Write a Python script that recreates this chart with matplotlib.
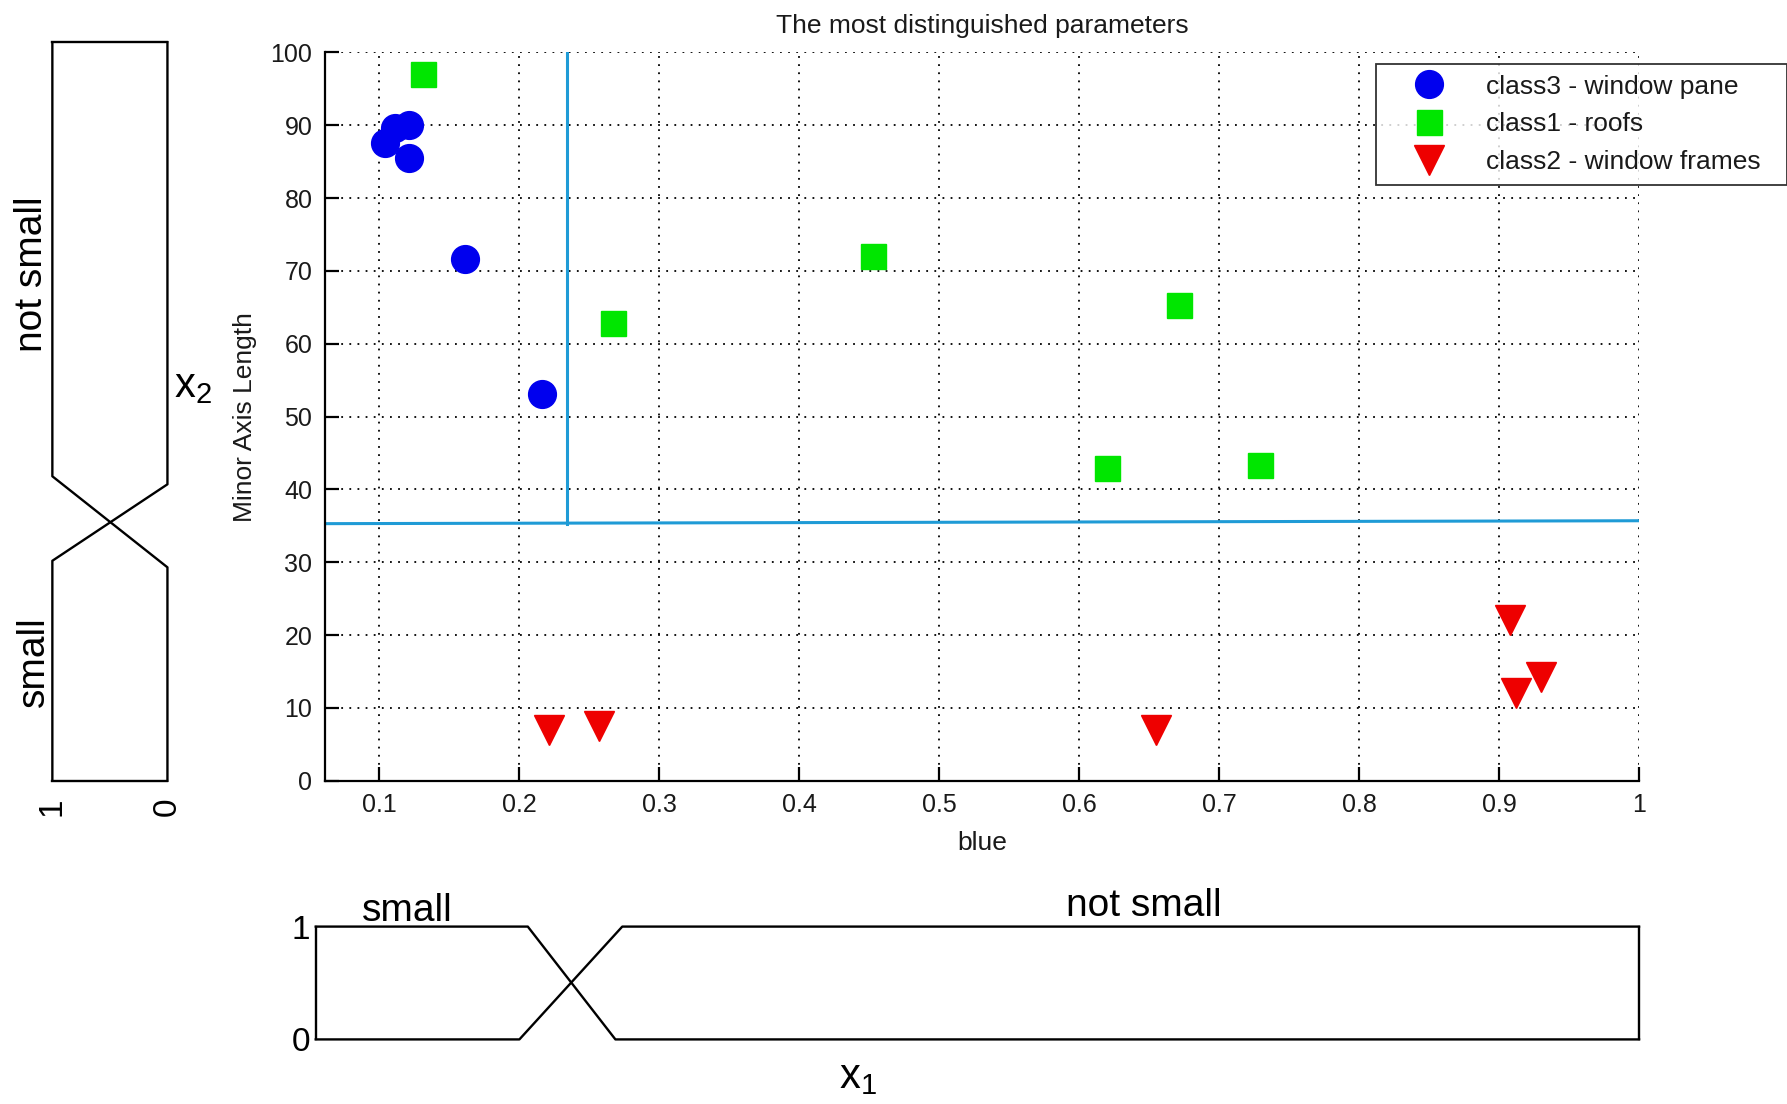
"""Fuzzy split of the two most distinguished parameters (blue vs minor axis length).

Scatter of the three classes with the crisp thresholds, plus the membership
functions "small" / "not small" drawn along each axis. Saves out.png.
"""

import matplotlib
matplotlib.use("Agg")
import matplotlib.pyplot as plt

plt.rcParams["font.family"] = ["Liberation Sans", "DejaVu Sans"]
plt.rcParams["mathtext.default"] = "regular"

# --- data -------------------------------------------------------------------
pane_x = [0.104, 0.111, 0.121, 0.121, 0.161, 0.216]
pane_y = [87.5, 89.6, 90.0, 85.5, 71.6, 53.1]
roof_x = [0.131, 0.267, 0.453, 0.671, 0.620, 0.729]
roof_y = [97.0, 62.9, 72.0, 65.3, 42.9, 43.3]
frame_x = [0.221, 0.257, 0.655, 0.908, 0.912, 0.930]
frame_y = [7.0, 7.5, 6.9, 22.1, 12.1, 14.2]

labels = ["class3 - window pane", "class1 - roofs", "class2 - window frames"]

x_ticks = [0.1, 0.2, 0.3, 0.4, 0.5, 0.6, 0.7, 0.8, 0.9, 1.0]
x_ticklabels = ["0.1", "0.2", "0.3", "0.4", "0.5", "0.6", "0.7", "0.8", "0.9", "1"]
y_ticks = list(range(0, 101, 10))

# crisp thresholds (slightly tilted horizontal one)
thr_x1 = 0.234
thr_x2_left, thr_x2_right = 35.3, 35.7

# membership functions
x1_lim = (0.0545, 1.0)
x1_small = ([0.0545, 0.206, 0.2686, 1.0], [1, 1, 0, 0])
x1_not_small = ([0.0545, 0.200, 0.2735, 1.0], [0, 0, 1, 1])
x2_max = 101.4
x2_small = ([1, 1, 0, 0], [0, 30.2, 40.7, x2_max])
x2_not_small = ([0, 0, 1, 1], [0, 29.3, 41.8, x2_max])

_BLUE = "#0000ee"
_GREEN = "#00e600"
_RED = "#ee0000"
_THR = "#1f9bd6"
_TXT = "#1a1a1a"
FS = 19

fig = plt.figure(figsize=(17.87, 11.04), dpi=100)

# --- main scatter -----------------------------------------------------------
ax = fig.add_axes([0.1818, 0.2928, 0.7354, 0.6597])
ax.plot(pane_x, pane_y, "o", ms=20, color=_BLUE, mec=_BLUE, label=labels[0], zorder=3)
ax.plot(roof_x, roof_y, "s", ms=18, color=_GREEN, mec=_GREEN, label=labels[1], zorder=3)
ax.plot(frame_x, frame_y, "v", ms=21, color=_RED, mec=_RED, label=labels[2], zorder=3)
ax.plot([thr_x1, thr_x1], [thr_x2_left, 100], color=_THR, lw=2.2, zorder=2)
ax.plot([0.061, 1.0], [thr_x2_left, thr_x2_right], color=_THR, lw=2.2, zorder=2)

ax.set_xlim(0.061, 1.0); ax.set_ylim(0, 100)
ax.set_xticks(x_ticks); ax.set_xticklabels(x_ticklabels)
ax.set_yticks(y_ticks)
ax.grid(True, color="black", linestyle=(0, (1, 3.5)), linewidth=1.3)
for s in ("top", "right"):
    ax.spines[s].set_visible(False)
for s in ("left", "right", "bottom"):
    ax.spines[s].set_linewidth(1.6)
ax.tick_params(direction="in", length=10, width=1.6, labelsize=18, pad=9,
               labelcolor=_TXT)
ax.set_xlabel("blue", fontsize=FS, labelpad=10, color=_TXT)
ax.set_ylabel("Minor Axis Length", fontsize=FS, labelpad=10, color=_TXT)
ax.set_title("The most distinguished parameters", fontsize=FS, pad=14, color=_TXT)

leg = ax.legend(loc="upper left", bbox_to_anchor=(0.770, 0.942, 0.230, 0.0),
                bbox_transform=fig.transFigure, mode="expand", fontsize=FS,
                frameon=True, fancybox=False, borderaxespad=0, borderpad=0.4,
                handlelength=3.2, handletextpad=0.55, labelspacing=0.52)
leg.get_frame().set_edgecolor("black"); leg.get_frame().set_linewidth(1.3)
for t in leg.get_texts():
    t.set_color(_TXT)

# --- x2 membership (left) ---------------------------------------------------
axl = fig.add_axes([0.0293, 0.2928, 0.0644, 0.6690])
axl.plot(*x2_not_small, color="black", lw=1.7, clip_on=False)
axl.plot(*x2_small, color="black", lw=1.7, clip_on=False)
axl.set_xlim(1, 0); axl.set_ylim(0, x2_max)
for s in ("left", "right"):
    axl.spines[s].set_visible(False)
for s in ("top", "bottom"):
    axl.spines[s].set_linewidth(1.7)
axl.set_xticks([1, 0]); axl.set_xticklabels(["1", "0"], rotation=90, fontsize=24)
axl.set_yticks([])
axl.tick_params(axis="x", length=0, pad=12)
fig.text(0.018, 0.752, "not small", rotation=90, fontsize=28, ha="center", va="center")
fig.text(0.019, 0.401, "small", rotation=90, fontsize=28, ha="center", va="center")
fig.text(0.108, 0.650, "x$_2$", fontsize=30, ha="center", va="center")

# --- x1 membership (bottom) -------------------------------------------------
axb = fig.add_axes([0.1767, 0.0585, 0.7405, 0.1022])
axb.plot(*x1_small, color="black", lw=1.7, clip_on=False)
axb.plot(*x1_not_small, color="black", lw=1.7, clip_on=False)
axb.set_xlim(*x1_lim); axb.set_ylim(0, 1)
for s in ("top", "bottom"):
    axb.spines[s].set_visible(False)
for s in ("left", "right"):
    axb.spines[s].set_linewidth(1.7)
axb.set_xticks([])
axb.set_yticks([0, 1]); axb.set_yticklabels(["0", "1"], fontsize=24)
axb.tick_params(axis="y", length=0, pad=4)
fig.text(0.228, 0.175, "small", fontsize=28, ha="center", va="center")
fig.text(0.640, 0.179, "not small", fontsize=28, ha="center", va="center")
fig.text(0.480, 0.024, "x$_1$", fontsize=30, ha="center", va="center")

fig.savefig("out.png", dpi=100)
plt.close(fig)
